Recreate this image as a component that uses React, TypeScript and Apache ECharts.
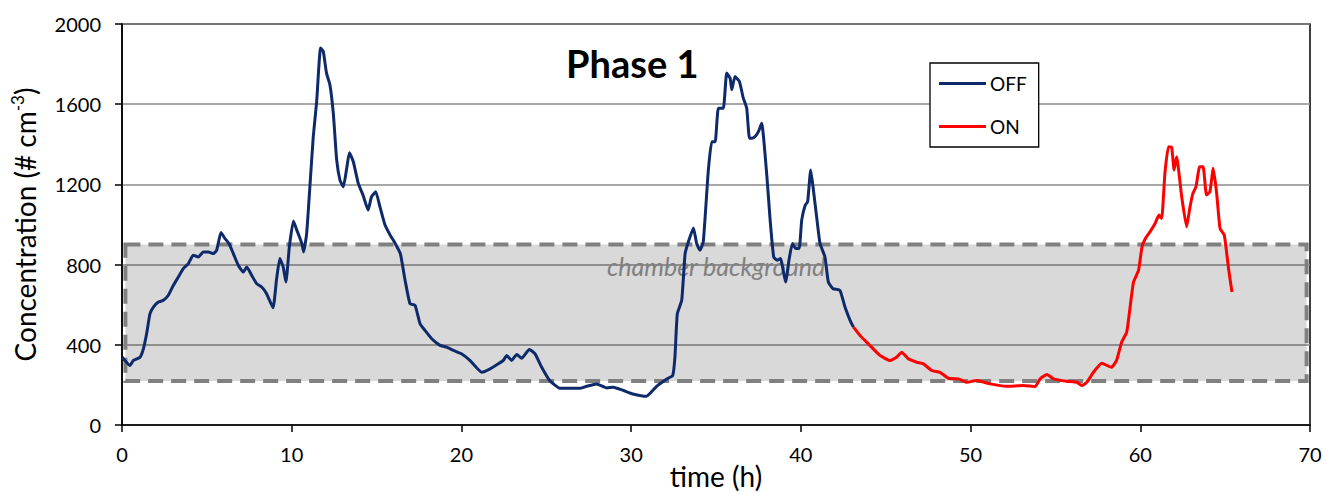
import React, { useEffect, useRef } from "react";
import * as echarts from "echarts";

const FONT = "Lato, 'Open Sans', sans-serif";

const offHours = [0.02, 0.47, 0.67, 1.06, 1.26, 1.45, 1.65, 1.85, 2.14, 2.44, 2.73, 3.03, 3.32, 3.61, 3.91, 4.2, 4.5, 4.79, 5.09, 5.38, 5.58, 5.83, 6.07, 6.3, 6.56, 6.85, 7.15, 7.35, 7.64, 7.93, 8.23, 8.52, 8.9, 9.1, 9.3, 9.5, 9.66, 9.86, 10.1, 10.3, 10.6, 10.7, 10.88, 11.07, 11.27, 11.47, 11.7, 11.86, 12.05, 12.25, 12.45, 12.65, 12.84, 13.04, 13.24, 13.4, 13.63, 13.92, 14.2, 14.5, 14.7, 14.95, 15.2, 15.5, 15.8, 16.1, 16.4, 16.68, 16.97, 17.27, 17.56, 17.85, 18.25, 18.74, 19.13, 19.53, 20.0, 20.5, 21.2, 21.69, 22.17, 22.47, 22.67, 22.96, 23.26, 23.55, 24.0, 24.34, 24.73, 25.2, 25.8, 27.0, 27.38, 27.97, 28.56, 28.95, 29.54, 30.1, 30.9, 31.5, 32.1, 32.45, 32.58, 32.72, 32.98, 33.18, 33.37, 33.67, 33.86, 34.06, 34.25, 34.55, 34.75, 34.95, 35.14, 35.43, 35.63, 35.83, 35.93, 36.12, 36.38, 36.61, 36.81, 36.97, 37.1, 37.3, 37.5, 37.69, 38.0, 38.19, 38.4, 38.6, 38.8, 39.1, 39.3, 39.5, 39.7, 39.9, 40.05, 40.26, 40.4, 40.58, 40.74, 40.93, 41.13, 41.42, 41.62, 41.9, 42.3, 42.6, 42.9, 43.1];
const offValues = [338, 297, 322, 338, 380, 455, 555, 588, 613, 622, 647, 697, 738, 780, 805, 847, 838, 863, 863, 855, 872, 960, 930, 905, 855, 797, 763, 788, 747, 705, 688, 655, 585, 722, 830, 788, 713, 888, 1017, 972, 905, 863, 955, 1188, 1438, 1613, 1880, 1863, 1755, 1697, 1555, 1322, 1222, 1188, 1280, 1358, 1313, 1205, 1147, 1072, 1138, 1163, 1088, 997, 947, 905, 855, 722, 605, 597, 505, 472, 430, 397, 388, 372, 355, 322, 263, 280, 305, 322, 347, 322, 352, 333, 377, 355, 288, 222, 183, 183, 193, 205, 185, 188, 172, 155, 143, 193, 230, 247, 338, 555, 622, 855, 913, 983, 905, 872, 913, 1272, 1413, 1413, 1580, 1580, 1755, 1730, 1672, 1738, 1713, 1630, 1580, 1430, 1430, 1438, 1463, 1505, 1238, 1022, 838, 822, 830, 713, 822, 905, 880, 880, 1022, 1097, 1113, 1272, 1172, 1038, 905, 838, 713, 680, 672, 588, 522, 488];

const onHours = [43.1, 43.48, 43.97, 44.66, 45.25, 45.64, 45.94, 46.33, 46.83, 47.22, 47.71, 48.2, 48.7, 49.3, 49.77, 50.36, 51.15, 52.1, 53.1, 53.8, 54.1, 54.5, 54.9, 55.66, 56.26, 56.55, 56.85, 57.24, 57.73, 58.3, 58.6, 58.9, 59.2, 59.4, 59.6, 59.9, 60.1, 60.3, 60.57, 60.87, 61.1, 61.26, 61.45, 61.66, 61.85, 61.99, 62.14, 62.44, 62.73, 62.93, 63.1, 63.28, 63.5, 63.7, 63.9, 64.1, 64.3, 64.5, 64.7, 64.95, 65.2, 65.4];
const onValues = [488, 447, 405, 347, 322, 338, 363, 330, 313, 305, 272, 263, 233, 230, 213, 222, 205, 193, 197, 192, 230, 252, 230, 218, 213, 197, 213, 263, 308, 288, 322, 413, 463, 588, 713, 772, 888, 930, 963, 1005, 1047, 1030, 1255, 1388, 1385, 1272, 1338, 1138, 988, 1088, 1155, 1188, 1288, 1288, 1147, 1163, 1280, 1155, 980, 947, 780, 663];

const backgroundBox = { fromHour: 0.2, toHour: 69.8, low: 220, high: 900 };
const xTicks = { min: 0, max: 70, interval: 10 };
const yTicks = { min: 0, max: 2000, interval: 400 };

export default function App() {
  const ref = useRef<HTMLDivElement>(null);
  useEffect(() => {
    if (!ref.current) return;
    const chart = echarts.init(ref.current, null, { renderer: "svg" });
    const offData = offHours.map((h, i) => [h, offValues[i]]);
    const onData = onHours.map((h, i) => [h, onValues[i]]);
    chart.setOption({
      animation: false,
      textStyle: { fontFamily: FONT },
      grid: {
        left: 122, right: 17, top: 24, bottom: 68,
        show: true, borderColor: "#000", borderWidth: 1.5,
        containLabel: false, outerBoundsMode: "none",
      },
      title: {
        text: "Phase 1",
        left: 566,
        top: 44,
        padding: 0,
        textStyle: { fontFamily: FONT, fontWeight: "bold", fontSize: 38, color: "#000" },
      },
      legend: {
        orient: "vertical",
        left: 930,
        top: 63,
        borderColor: "#000",
        borderWidth: 1.3,
        backgroundColor: "#fff",
        padding: [11, 12, 11, 9],
        itemGap: 24,
        itemWidth: 47,
        itemHeight: 3,
        icon: "rect",
        textStyle: { fontFamily: FONT, fontSize: 19, color: "#000", padding: [0, 0, 0, -1] },
        data: ["OFF", "ON"],
      },
      xAxis: {
        type: "value",
        min: xTicks.min,
        max: xTicks.max,
        interval: xTicks.interval,
        name: "time (h)",
        nameLocation: "middle",
        nameGap: 37,
        nameMoveOverlap: false,
        nameTextStyle: { fontFamily: FONT, fontSize: 28, color: "#000" },
        axisLine: { onZero: false, lineStyle: { color: "#000", width: 1.5 } },
        axisTick: { show: true, inside: false, length: 7, lineStyle: { color: "#000", width: 1.5 } },
        axisLabel: { fontFamily: FONT, fontSize: 20, color: "#000", margin: 19 },
        splitLine: { show: false },
      },
      yAxis: {
        type: "value",
        min: yTicks.min,
        max: yTicks.max,
        interval: yTicks.interval,
        name: "Concentration (# cm{sup|-3})",
        nameLocation: "middle",
        nameGap: 82,
        nameRotate: 90,
        nameMoveOverlap: false,
        nameTextStyle: {
          fontFamily: FONT,
          fontSize: 28,
          color: "#000",
          rich: { sup: { fontFamily: FONT, fontSize: 17, color: "#000", padding: [0, 0, 14, 0] } },
        },
        axisLine: { lineStyle: { color: "#000", width: 1.5 } },
        axisTick: { show: true, inside: false, length: 7, lineStyle: { color: "#000", width: 1.5 } },
        axisLabel: { fontFamily: FONT, fontSize: 20, color: "#000", margin: 21, formatter: (v: number) => String(v) },
        splitLine: { show: true, lineStyle: { color: "#8a8a8a", width: 1.5 } },
      },
      series: [
        {
          name: "OFF",
          type: "line",
          data: offData,
          showSymbol: false,
          symbol: "none",
          smooth: 0.15,
          color: "#0e2a6a",
          lineStyle: { color: "#0e2a6a", width: 3 },
          z: 3,
          markArea: {
            silent: true,
            z: 1,
            itemStyle: { color: "rgba(0,0,0,0.15)", borderColor: "#808080", borderWidth: 4, borderType: [15, 8] },
            label: {
              show: true,
              position: "insideTop",
              distance: 11,
              formatter: "chamber background",
              fontFamily: FONT,
              fontStyle: "italic",
              fontSize: 25,
              color: "#808080",
            },
            data: [
              [
                { coord: [backgroundBox.fromHour, backgroundBox.high] },
                { coord: [backgroundBox.toHour, backgroundBox.low] },
              ],
            ],
          },
        },
        {
          name: "ON",
          type: "line",
          data: onData,
          showSymbol: false,
          symbol: "none",
          smooth: 0.15,
          color: "#ff0000",
          lineStyle: { color: "#ff0000", width: 3 },
          z: 3,
        },
      ],
    });
    return () => chart.dispose();
  }, []);
  return <div ref={ref} style={{ width: 1327, height: 493, position: "absolute", left: 0, top: 0 }} />;
}
